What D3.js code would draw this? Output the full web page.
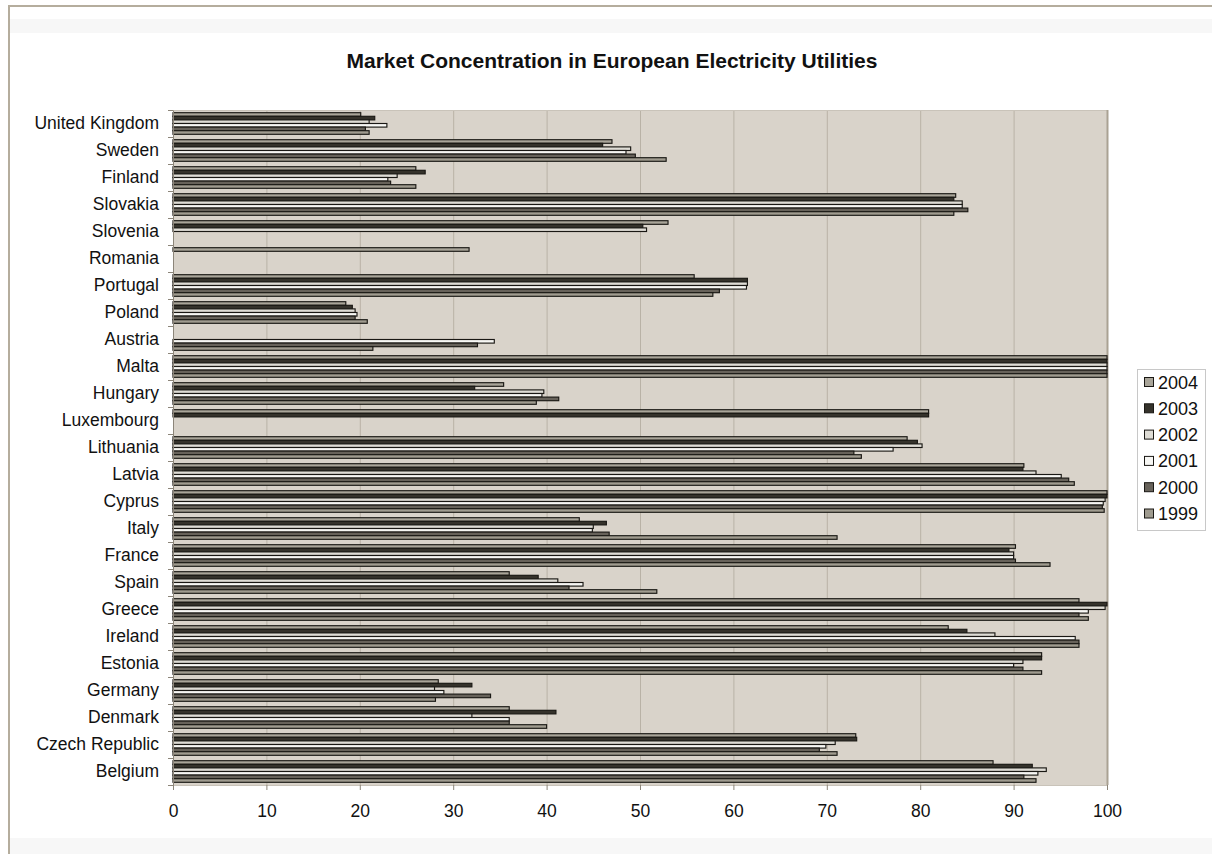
<!DOCTYPE html>
<html>
<head>
<meta charset="utf-8">
<script src="https://cdn.jsdelivr.net/npm/d3@7"></script>
<style>
  html, body { margin: 0; padding: 0; background: #ffffff; }
  svg { display: block; font-family: "Liberation Sans", Arial, sans-serif; }
</style>
</head>
<body>
<svg id="chart" width="1212" height="854"></svg>
<script>
// Categories, top to bottom
const countries = ["United Kingdom", "Sweden", "Finland", "Slovakia", "Slovenia", "Romania",
  "Portugal", "Poland", "Austria", "Malta", "Hungary", "Luxembourg", "Lithuania", "Latvia",
  "Cyprus", "Italy", "France", "Spain", "Greece", "Ireland", "Estonia", "Germany", "Denmark",
  "Czech Republic", "Belgium"];

// Series, in the order the bars sit inside each group (top to bottom)
const years = ["2004", "2003", "2002", "2001", "2000", "1999"];

// Market share of the largest generators (%), one value per country, null = no data
const v2004 = [20.1, 47.0, 26.0, 83.8, 53.0, 31.7, 55.8, 18.5, null, 100, 35.4, 80.9, 78.6, 91.1, 100, 43.5, 90.2, 36.0, 97.0, 83.0, 93.0, 28.4, 36.0, 73.1, 87.8];
const v2003 = [21.6, 46.0, 27.0, 83.6, 50.3, null, 61.5, 19.2, null, 100, 32.3, 80.9, 79.7, 91.0, 100, 46.4, 89.5, 39.1, 100, 85.0, 93.0, 32.0, 41.0, 73.2, 92.0];
const v2002 = [21.0, 49.0, 24.0, 84.5, 50.7, null, 61.5, 19.5, null, 100, 39.7, null, 80.2, 92.4, 99.8, 45.0, 90.0, 41.2, 99.8, 88.0, 91.0, 28.0, 32.0, 70.9, 93.5];
const v2001 = [22.9, 48.5, 23.0, 84.5, null, null, 61.4, 19.7, 34.4, 100, 39.5, null, 77.1, 95.1, 99.6, 44.9, 90.0, 43.9, 98.0, 96.6, 90.0, 29.0, 36.0, 69.9, 92.6];
const v2000 = [20.6, 49.5, 23.3, 85.1, null, null, 58.5, 19.5, 32.6, 100, 41.3, null, 72.9, 95.9, 99.5, 46.7, 90.2, 42.4, 97.0, 97.0, 91.0, 34.0, 36.0, 69.2, 91.1];
const v1999 = [21.0, 52.8, 26.0, 83.6, null, null, 57.8, 20.8, 21.4, 100, 38.9, null, 73.7, 96.5, 99.7, 71.1, 93.9, 51.8, 98.0, 97.0, 93.0, 28.1, 40.0, 71.1, 92.4];

const xTicks = [0, 10, 20, 30, 40, 50, 60, 70, 80, 90, 100];

const seriesValues = [v2004, v2003, v2002, v2001, v2000, v1999];
const fills = ["#a9a599", "#35322b", "#dedcd5", "#f7f7f4", "#67625a", "#9f9b8f"];

const svg = d3.select("#chart");

// Outer sheet frame and bands
svg.append("rect").attr("x", 0).attr("y", 0).attr("width", 1212).attr("height", 854).attr("fill", "#ffffff");
svg.append("rect").attr("x", 10).attr("y", 19).attr("width", 1202).attr("height", 14).attr("fill", "#f7f7f7");
svg.append("rect").attr("x", 10).attr("y", 838).attr("width", 1202).attr("height", 16).attr("fill", "#f7f7f7");
svg.append("line").attr("x1", 8).attr("x2", 1212).attr("y1", 6).attr("y2", 6).attr("stroke", "#b5ad9d").attr("stroke-width", 2);
svg.append("line").attr("x1", 9).attr("x2", 9).attr("y1", 5).attr("y2", 854).attr("stroke", "#b5ad9d").attr("stroke-width", 2);

const plot = { left: 173, right: 1107, top: 110, bottom: 785 };

const x = d3.scaleLinear().domain([0, 100]).range([plot.left, plot.right]);
const y0 = d3.scaleBand().domain(countries).range([plot.top, plot.bottom])
  .paddingInner(0.2).paddingOuter(0.1);
const y1 = d3.scaleBand().domain(years).range([0, y0.bandwidth()]);

// Plot area
svg.append("rect")
  .attr("x", plot.left).attr("y", plot.top)
  .attr("width", plot.right - plot.left).attr("height", plot.bottom - plot.top)
  .attr("fill", "#d9d3ca");

// Vertical gridlines
svg.append("g").selectAll("line").data(xTicks.slice(1, -1)).join("line")
  .attr("x1", d => x(d) + 0.5).attr("x2", d => x(d) + 0.5)
  .attr("y1", plot.top).attr("y2", plot.bottom)
  .attr("stroke", "#b9b2a6").attr("stroke-width", 1);

// Plot border
svg.append("line").attr("x1", plot.left).attr("x2", plot.right).attr("y1", plot.top + 0.5).attr("y2", plot.top + 0.5)
  .attr("stroke", "#c9c3b9").attr("stroke-width", 1);
svg.append("line").attr("x1", plot.right + 0.5).attr("x2", plot.right + 0.5).attr("y1", plot.top).attr("y2", plot.bottom)
  .attr("stroke", "#aaa293").attr("stroke-width", 2);
svg.append("line").attr("x1", plot.left).attr("x2", plot.right + 1).attr("y1", plot.bottom + 0.5).attr("y2", plot.bottom + 0.5)
  .attr("stroke", "#c9c3b9").attr("stroke-width", 1);

// Bars
const groups = svg.append("g").selectAll("g").data(countries).join("g")
  .attr("transform", d => `translate(0,${y0(d)})`);

groups.selectAll("rect")
  .data((c, i) => years.map((yr, k) => ({ yr, k, v: seriesValues[k][i] })).filter(d => d.v != null))
  .join("rect")
  .attr("x", x(0))
  .attr("y", d => y1(d.yr))
  .attr("width", d => x(d.v) - x(0))
  .attr("height", y1.bandwidth())
  .attr("fill", d => fills[d.k])
  .attr("stroke", "#1a1814")
  .attr("stroke-width", 1.15);

// Category axis
const yAxis = d3.axisLeft(y0).tickSize(0).tickPadding(14);
const gy = svg.append("g").attr("transform", `translate(${plot.left},0)`).call(yAxis);
gy.select(".domain").attr("stroke", "#8c8579");
gy.selectAll("text").attr("font-size", 17.5).attr("fill", "#111").attr("font-family", "Liberation Sans, Arial, sans-serif");
// tick marks on the category boundaries
svg.append("g").selectAll("line").data(d3.range(countries.length + 1)).join("line")
  .attr("x1", plot.left - 5).attr("x2", plot.left)
  .attr("y1", i => plot.top + i * y0.step() + 0.5).attr("y2", i => plot.top + i * y0.step() + 0.5)
  .attr("stroke", "#8c8579");

// Value axis
const xAxis = d3.axisBottom(x).tickValues(xTicks).tickSize(5).tickPadding(15).tickFormat(d3.format("d"));
const gx = svg.append("g").attr("transform", `translate(0,${plot.bottom})`).call(xAxis);
gx.select(".domain").remove();
gx.selectAll(".tick line").attr("stroke", "#8c8579");
gx.selectAll("text").attr("font-size", 17.5).attr("fill", "#111").attr("font-family", "Liberation Sans, Arial, sans-serif");

// Title
svg.append("text")
  .attr("x", 612).attr("y", 68)
  .attr("text-anchor", "middle")
  .attr("font-size", 21).attr("font-weight", "bold").attr("fill", "#111")
  .text("Market Concentration in European Electricity Utilities");

// Legend
const legend = svg.append("g").attr("transform", "translate(1137,369)");
legend.append("rect").attr("x", 0.5).attr("y", 0.5).attr("width", 68).attr("height", 161)
  .attr("fill", "#ffffff").attr("stroke", "#c8c8c8");
const li = legend.selectAll("g").data(years).join("g")
  .attr("transform", (d, i) => `translate(0,${13 + i * 26.3})`);
li.append("rect").attr("x", 7.5).attr("y", -4.5).attr("width", 9).attr("height", 9)
  .attr("fill", (d, i) => fills[i]).attr("stroke", "#1a1814");
li.append("text").attr("x", 21).attr("y", 6.5).attr("font-size", 18).attr("fill", "#111").text(d => d);
</script>
</body>
</html>
